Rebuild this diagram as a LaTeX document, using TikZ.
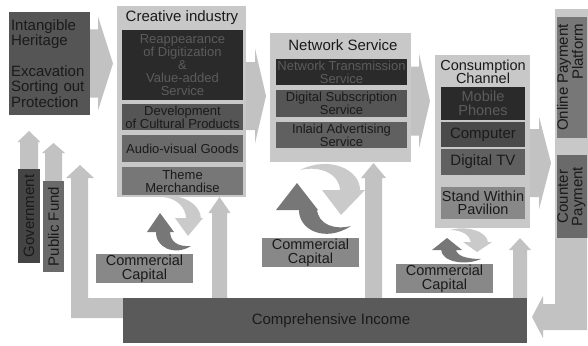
\documentclass[tikz,border=0pt]{standalone}
\usepackage{fontspec}
\setmainfont{Liberation Sans}
\usetikzlibrary{calc}
\definecolor{arrowc}{HTML}{C2C2C2}
\definecolor{panelc}{HTML}{C8C8C8}
\definecolor{lightc}{HTML}{CACACA}
\definecolor{darkc}{HTML}{2A2A2A}
\definecolor{gray44}{HTML}{444444}
\definecolor{gray4a}{HTML}{4A4A4A}
\definecolor{gray55}{HTML}{555555}
\definecolor{gray5a}{HTML}{5A5A5A}
\definecolor{gray60}{HTML}{606060}
\definecolor{gray6a}{HTML}{6A6A6A}
\definecolor{gray77}{HTML}{777777}
\definecolor{gray88}{HTML}{888888}
\definecolor{txt}{HTML}{1A1A1A}
\definecolor{txtdim}{HTML}{5C5C5C}
\tikzset{
  box/.style={rectangle, inner sep=0pt, outer sep=0pt, align=center, text=txt},
  panel/.style={box, fill=panelc},
  big/.style={font=\fontsize{15}{15.5}\selectfont},
  tight/.style={font=\fontsize{14.5}{13.6}\selectfont},
  small/.style={font=\fontsize{13}{12.8}\selectfont},
  dimtext/.style={text=txtdim},
}
% horizontal block arrow: from #1 to tip #2, body half #3, head half #4, head length #5
\newcommand\blockR[5]{%
  \fill[arrowc] ($(#1)+(0,-#3)$) -- ($(#2 |- #1)+(-#5,-#3)$) -- ($(#2 |- #1)+(-#5,-#4)$)
    -- (#2 |- #1) -- ($(#2 |- #1)+(-#5,#4)$) -- ($(#2 |- #1)+(-#5,#3)$) -- ($(#1)+(0,#3)$) -- cycle;}
% vertical (upward) block arrow
\newcommand\blockU[5]{%
  \fill[arrowc] ($(#1)+(-#3,0)$) -- ($(#1 |- #2)+(-#3,#5)$) -- ($(#1 |- #2)+(-#4,#5)$)
    -- (#1 |- #2) -- ($(#1 |- #2)+(#4,#5)$) -- ($(#1 |- #2)+(#3,#5)$) -- ($(#1)+(#3,0)$) -- cycle;}
\begin{document}
\begin{tikzpicture}[x=1pt,y=-1pt]
\useasboundingbox (0,0) rectangle (588,345);

% ---------- nodes (boxes) ----------
\node[box, big, fill=gray55, minimum width=81pt, minimum height=103pt, text width=77pt, align=left] (intang) at (49.5,63.5)
  {Intangible\\Heritage\\[15pt]Excavation\\Sorting out\\Protection};

\node[box, fill=gray44, minimum width=22pt, minimum height=94pt] (gov) at (29,216)
  {\rotatebox{90}{\fontsize{15}{15}\selectfont Government}};
\node[box, fill=gray6a, minimum width=21pt, minimum height=91pt] (pf) at (53.5,226.5)
  {\rotatebox{90}{\fontsize{15}{15}\selectfont Public Fund}};

\node[box, fill=gray5a, minimum width=404pt, minimum height=45pt] (comp) at (325,320.5) {};

% coordinates for arrow tips / starts
\coordinate (t1) at (113,65);
\coordinate (s2) at (246,96);  \coordinate (t2) at (266,96);
\coordinate (s3) at (411,101); \coordinate (t3) at (430,101);
\coordinate (s4) at (530,163); \coordinate (t4) at (551,163);
\coordinate (tg) at (29,131);
\coordinate (tp) at (53.5,143);
\coordinate (u1s) at (219.5,298); \coordinate (u1) at (219.5,197);
\coordinate (u2s) at (373.5,298); \coordinate (u2) at (373.5,163);
\coordinate (u3s) at (520,298);   \coordinate (u3) at (520,238);

% ---------- block arrows (behind panels) ----------
\blockR{intang.east}{t1}{34}{47}{15}
\blockR{s2}{t2}{34}{47.5}{11}
\blockR{s3}{t3}{34.5}{47.5}{11}
\blockR{s4}{t4}{34}{46.5}{12}
\blockU{gov.north}{tg}{9}{11.5}{11}
\blockU{pf.north}{tp}{8.5}{11.5}{10}
\blockU{u1s}{u1}{7.5}{11}{16}
\blockU{u2s}{u2}{8.5}{12.5}{15}
\blockU{u3s}{u3}{7}{11}{12}
% L-shaped arrow from Comprehensive Income to the left
\fill[arrowc] (comp.north west) -- (88,298) -- (88,178) -- (94,178) -- (80,165) -- (66,178)
  -- (71,178) -- (71,318) -- (123,318) -- cycle;

% redraw income box on top
\node[box, big, fill=gray5a, minimum width=404pt, minimum height=45pt] (comp2) at (comp) {\hspace*{12pt}Comprehensive Income};
\node[box, fill=gray44, minimum width=22pt, minimum height=94pt] at (gov)
  {\rotatebox{90}{\fontsize{15}{15}\selectfont Government}};
\node[box, fill=gray6a, minimum width=21pt, minimum height=91pt] at (pf)
  {\rotatebox{90}{\fontsize{15}{15}\selectfont Public Fund}};

% ---------- Creative industry ----------
\node[panel, minimum width=129pt, minimum height=191pt] (creative) at (181.5,101.5) {};
\node[box, big] (creativet) at (182,18) {Creative industry};
\node[box, small, dimtext, fill=darkc, minimum width=121pt, minimum height=70pt] (reap) at (182.5,65)
  {Reappearance\\of Digitization\\\&\\Value-added\\Service};
\node[box, small, fill=gray55, minimum width=121pt, minimum height=26pt] (devel) at (182.5,117)
  {Development\\of Cultural Products};
\node[box, small, fill=gray6a, minimum width=121pt, minimum height=27pt] (audio) at (182.5,148.5)
  {Audio-visual Goods};
\node[box, small, fill=gray77, minimum width=121pt, minimum height=28pt] (theme) at (182.5,181)
  {Theme\\Merchandise};

% ---------- Network Service ----------
\node[panel, minimum width=141pt, minimum height=129pt] (network) at (340.5,97.5) {};
\node[box, big] (networkt) at (343,45) {Network Service};
\node[box, small, dimtext, fill=darkc, minimum width=131pt, minimum height=26pt] (ntrans) at (341.5,72)
  {Network Transmission\\Service};
\node[box, small, fill=gray55, minimum width=131pt, minimum height=27pt] (dsub) at (341.5,103.5)
  {Digital Subscription\\Service};
\node[box, small, fill=gray60, minimum width=131pt, minimum height=26pt] (inlaid) at (341.5,135)
  {Inlaid Advertising\\Service};

% ---------- Consumption Channel ----------
\node[panel, minimum width=95pt, minimum height=173pt] (consum) at (482.5,141.5) {};
\node[box, tight] (consumt) at (483,72) {Consumption\\Channel};
\node[box, tight, dimtext, fill=darkc, minimum width=84pt, minimum height=33pt] (mobile) at (483,103.5)
  {Mobile\\Phones};
\node[box, big, fill=gray4a, minimum width=84pt, minimum height=25pt] (computer) at (483,134.5) {Computer};
\node[box, big, fill=gray60, minimum width=84pt, minimum height=26pt] (dtv) at (483,162) {Digital TV};
\node[box, tight, fill=gray88, minimum width=84pt, minimum height=32pt] (stand) at (483,203)
  {Stand Within\\Pavilion};

% ---------- Payment ----------
\fill[arrowc] (555,236) -- (555,304) -- (543,304) -- (543,296) -- (532,317) -- (543,338)
  -- (543,330) -- (587,330) -- (587,236) -- cycle;
\node[panel, minimum width=35pt, minimum height=229pt] (pay) at (572.5,123.5) {};
\node[box, fill=gray77, minimum width=30pt, minimum height=121pt] (online) at (572,77.5)
  {\rotatebox{90}{\fontsize{15}{14}\selectfont\begin{tabular}{@{}r@{}}Online Payment\\Platform\end{tabular}}};
\node[box, fill=gray6a, minimum width=30pt, minimum height=83pt] (counter) at (572,196.5)
  {\rotatebox{90}{\fontsize{15}{14}\selectfont\begin{tabular}{@{}c@{}}Counter\\Payment\end{tabular}}};

% ---------- circular arrows ----------
% set 1
\fill[gray77] (147,232) -- (160,213) -- (174,232) -- cycle;
\fill[gray77] (156,231) .. controls (155,248) and (175,256) .. (191,246)
  .. controls (178,247) and (170,242) .. (170,231) -- cycle;
\fill[lightc] (175,218) -- (203,218) -- (188,236) -- cycle;
\fill[lightc] (201,219) .. controls (201,205) and (183,193) .. (163,197)
  .. controls (176,198) and (186,207) .. (186,219) -- cycle;
% set 2
\fill[gray77] (276,210) -- (297,183) -- (318,210) -- cycle;
\fill[gray77] (299,209) .. controls (298,230) and (325,243) .. (351,226)
  .. controls (335,230) and (318,225) .. (317,209) -- cycle;
\fill[lightc] (322,190) -- (365,190) -- (341,215) -- cycle;
\fill[lightc] (360,191) .. controls (361,170) and (330,155) .. (300,170)
  .. controls (322,165) and (340,175) .. (340,191) -- cycle;
% set 3
\fill[gray77] (432,250) -- (447,238) -- (462,250) -- cycle;
\fill[gray77] (441,249) .. controls (441,262) and (465,266) .. (481,259)
  .. controls (467,259) and (456,256) .. (456,249) -- cycle;
\fill[lightc] (463,242) -- (492,242) -- (477,252) -- cycle;
\fill[lightc] (488,243) .. controls (488,232) and (468,225) .. (450,230)
  .. controls (462,230) and (470,235) .. (471,243) -- cycle;

% ---------- Commercial Capital ----------
\node[box, tight, fill=gray88, minimum width=97pt, minimum height=29pt] (cc1) at (144.5,268.5) {Commercial\\Capital};
\node[box, tight, fill=gray88, minimum width=97pt, minimum height=29pt] (cc2) at (310.5,252.5) {Commercial\\Capital};
\node[box, tight, fill=gray88, minimum width=97pt, minimum height=29pt] (cc3) at (444.5,278.5) {Commercial\\Capital};
\end{tikzpicture}
\end{document}
